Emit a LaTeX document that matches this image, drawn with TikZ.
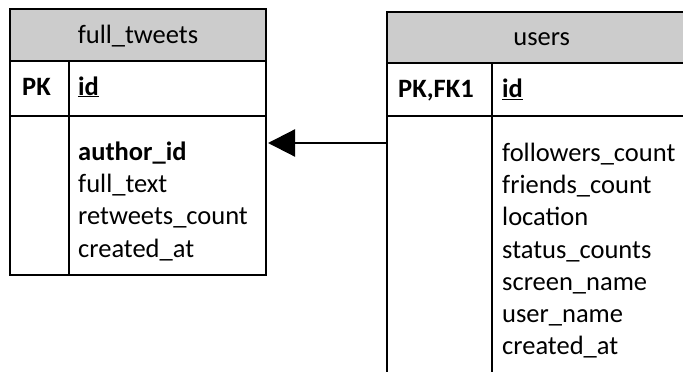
\documentclass[tikz,border=0pt]{standalone}
\usepackage{fontspec}
\setmainfont{Carlito}
\usetikzlibrary{arrows.meta}
\begin{document}
\begin{tikzpicture}[x=1pt,y=-1pt,
  box/.style={draw=black,line width=1.3pt,inner sep=0pt,outer sep=0pt,anchor=north west},
  hdr/.style={box,fill=black!20},
  title/.style={font=\fontsize{26.5}{32.1}\selectfont,anchor=base,inner sep=0pt},
  key/.style={font=\fontsize{26.5}{32.1}\selectfont\bfseries,anchor=base west,inner sep=0pt},
  fld/.style={font=\fontsize{26.5}{32.1}\selectfont,anchor=base west,inner sep=0pt,align=left},
  link/.style={line width=2.2pt,-{Triangle[length=27pt,width=27pt]}}
]
\useasboundingbox (0,0) rectangle (683,372);
\clip (0,0) rectangle (683,372);
% full_tweets
\node[hdr,minimum width=256pt,minimum height=52pt] (fth) at (10,9) {};
\node[box,minimum width=59pt,minimum height=55pt] (ftpk) at (10,61) {};
\node[box,minimum width=197pt,minimum height=55pt] (ftid) at (69,61) {};
\node[box,minimum width=59pt,minimum height=159pt] (ftk) at (10,116) {};
\node[box,minimum width=197pt,minimum height=159pt] (ftf) at (69,116) {};
\node[title] (ftt) at (138,43) {full\_tweets};
\node[key] (ftpkt) at (22,95) {PK};
\node[key] (ftidt) at (78,95) {\underline{id}};
\node[fld] (ftfl) at (78,160.7) {\textbf{author\_id}};
\node[fld] (ftf2) at (78,192.8) {full\_text};
\node[fld] (ftf3) at (78,224.9) {retweets\_count};
\node[fld] (ftf4) at (78,257) {created\_at};
% users
\node[hdr,minimum width=310pt,minimum height=51pt] (ush) at (387,12) {};
\node[box,minimum width=105pt,minimum height=53pt] (uspk) at (387,63) {};
\node[box,minimum width=205pt,minimum height=53pt] (usid) at (492,63) {};
\node[box,minimum width=105pt,minimum height=300pt] (usk) at (387,116) {};
\node[box,minimum width=205pt,minimum height=300pt] (usf) at (492,116) {};
\node[title] (ust) at (541.7,45) {users};
\node[key] (uspkt) at (398,97.5) {PK,FK1};
\node[key] (usidt) at (502,97.5) {\underline{id}};
\node[fld] (usf1) at (502,161.7) {followers\_count};
\node[fld] (usf2) at (502,193.8) {friends\_count};
\node[fld] (usf3) at (502,225.9) {location};
\node[fld] (usf4) at (502,258) {status\_counts};
\node[fld] (usf5) at (502,290.1) {screen\_name};
\node[fld] (usf6) at (502,322.2) {user\_name};
\node[fld] (usf7) at (502,354.3) {created\_at};
% relation
\coordinate (src) at (387,143);
\coordinate (dst) at (268,143);
\draw[link] (src) -- (dst);
\end{tikzpicture}
\end{document}
